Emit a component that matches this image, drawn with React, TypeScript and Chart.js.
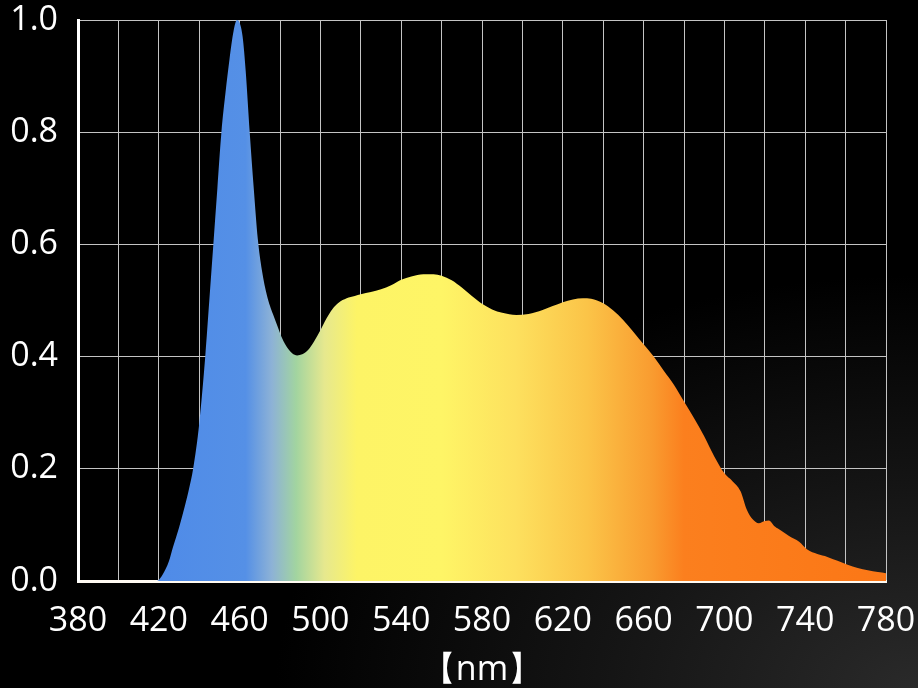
import React, { useEffect, useRef } from "react";
import { Chart, registerables } from "chart.js";

Chart.register(...registerables);

const wavelengths = [
  380, 419, 422, 425, 427, 430, 433, 435, 437, 440, 443, 445, 447, 449, 451, 453, 455, 457, 458.7, 460,
  461.5, 463, 465, 467, 469, 471, 473.6, 476.5, 479, 481, 484, 486, 488.5, 491, 494, 497, 500, 503, 506,
  509, 513, 517, 520, 525, 530, 535, 540, 545, 551, 556, 560, 565, 570, 575, 580, 585, 590, 597, 603, 610,
  615, 620, 625, 630, 634, 640, 645, 650, 655, 660, 665, 670, 675, 680, 685, 690, 695, 700, 704, 708, 711,
  714, 717, 720, 722, 725, 728, 732, 737, 741, 746, 751, 756, 761, 766, 771, 776, 780,
];

const intensity = [
  0, 0, 0.012, 0.035, 0.06, 0.095, 0.135, 0.165, 0.2, 0.28, 0.4, 0.5, 0.6, 0.7, 0.8, 0.87, 0.93, 0.98, 1.0,
  0.995, 0.97, 0.91, 0.8, 0.7, 0.61, 0.555, 0.508, 0.476, 0.452, 0.433, 0.414, 0.406, 0.402, 0.404, 0.412,
  0.428, 0.447, 0.468, 0.485, 0.496, 0.504, 0.508, 0.511, 0.515, 0.52, 0.527, 0.537, 0.543, 0.547, 0.547,
  0.544, 0.536, 0.523, 0.508, 0.494, 0.484, 0.478, 0.474, 0.476, 0.483, 0.49, 0.497, 0.502, 0.504, 0.503,
  0.495, 0.482, 0.465, 0.444, 0.422, 0.4, 0.375, 0.35, 0.32, 0.29, 0.258, 0.222, 0.192, 0.178, 0.16, 0.128,
  0.11, 0.103, 0.107, 0.108, 0.097, 0.09, 0.08, 0.07, 0.056, 0.048, 0.043, 0.036, 0.029, 0.023, 0.019,
  0.016, 0.014,
];

const xMin = 380;
const xMax = 780;
const yTickLabels = ["0.0", "0.2", "0.4", "0.6", "0.8", "1.0"];
const xAxisTitle = "【nm】";

const colorStops: [number, string][] = [
  [420, "#4f8be8"],
  [463, "#5590e6"],
  [476, "#8db2d6"],
  [488, "#a2d4a0"],
  [502, "#e6e88e"],
  [518, "#fdf466"],
  [560, "#fef566"],
  [597, "#fde05e"],
  [632, "#fbc448"],
  [664, "#f99c30"],
  [680, "#fb7f1e"],
  [780, "#fb7716"],
];

export default function App() {
  const canvasRef = useRef<HTMLCanvasElement | null>(null);

  useEffect(() => {
    if (!canvasRef.current) return;
    const font = "'Open Sans', 'Noto Sans', sans-serif";
    const chart = new Chart(canvasRef.current, {
      type: "line",
      data: {
        datasets: [
          {
            data: wavelengths.map((w, i) => ({ x: w, y: intensity[i] })),
            fill: "origin",
            borderWidth: 0,
            borderColor: "rgba(0,0,0,0)",
            pointRadius: 0,
            cubicInterpolationMode: "monotone",
            backgroundColor: (ctx: any) => {
              const c = ctx.chart;
              const area = c.chartArea;
              if (!area) return "#fdf466";
              const sx = c.scales.x;
              const x0 = sx.getPixelForValue(xMin);
              const x1 = sx.getPixelForValue(xMax);
              const g = c.ctx.createLinearGradient(x0, 0, x1, 0);
              colorStops.forEach(([nm, col]) => g.addColorStop((nm - xMin) / (xMax - xMin), col));
              return g;
            },
          },
        ],
      },
      options: {
        animation: false,
        responsive: false,
        maintainAspectRatio: false,
        layout: { padding: { left: 0, right: 32, top: 20, bottom: 0 } },
        plugins: {
          legend: { display: false },
          tooltip: { enabled: false },
        },
        scales: {
          x: {
            type: "linear",
            min: xMin,
            max: xMax,
            afterFit: (s: any) => {
              s.paddingLeft = 0;
              s.paddingRight = 0;
              s.height = 107;
            },
            ticks: {
              stepSize: 20,
              autoSkip: false,
              maxRotation: 0,
              color: "#ffffff",
              font: { family: font, size: 34, weight: 400 },
              padding: 20,
              callback: (v: any) => ((Number(v) - xMin) % 40 === 0 ? String(v) : ""),
            },
            grid: { color: "#c4c4c4", lineWidth: 1, drawTicks: false },
            border: { color: "#fffaf2", width: 3 },
            title: {
              display: true,
              text: xAxisTitle,
              color: "#ffffff",
              font: { family: font, size: 34, weight: 400 },
              padding: { top: -3, bottom: -3 },
            },
          },
          y: {
            min: 0,
            max: 1,
            afterFit: (s: any) => {
              s.paddingTop = 0;
              s.paddingBottom = 0;
              s.width = 78;
            },
            ticks: {
              stepSize: 0.2,
              color: "#ffffff",
              font: { family: font, size: 34, weight: 400 },
              padding: 20,
              callback: (v: any) => yTickLabels[Math.round(Number(v) / 0.2)] ?? "",
            },
            grid: { color: "#c4c4c4", lineWidth: 1, drawTicks: false },
            border: { color: "#ffffff", width: 3 },
          },
        },
      },
    });
    return () => chart.destroy();
  }, []);

  return (
    <div
      style={{
        position: "fixed",
        left: 0,
        top: 0,
        width: 918,
        height: 688,
        background: "radial-gradient(ellipse 70% 60% at 100% 100%, #2a2a2a 0%, #141414 50%, #000000 100%)",
      }}
    >
      <canvas ref={canvasRef} width={918} height={688} style={{ display: "block", width: 918, height: 688 }} />
    </div>
  );
}
